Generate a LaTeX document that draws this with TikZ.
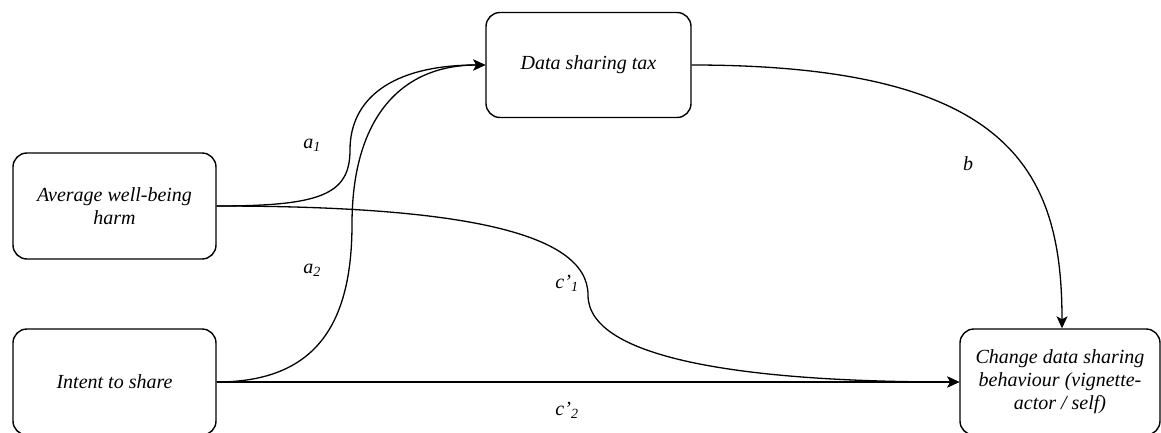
\documentclass[tikz,border=0pt]{standalone}
\usepackage{fontspec}
\setmainfont{Liberation Serif}
\usetikzlibrary{arrows.meta}
\tikzset{
  box/.style={draw=black, line width=1.4pt, rounded corners=14pt, fill=white,
    minimum width=203pt, minimum height=106pt, align=center,
    font=\fontsize{20}{23}\selectfont\itshape, inner sep=2pt},
  link/.style={line width=1.3pt, -{Stealth[length=12pt,width=11pt,inset=3pt]}},
  lbl/.style={font=\fontsize{20}{23}\selectfont\itshape, inner sep=0pt}
}
\begin{document}
\begin{tikzpicture}[x=1pt,y=-1pt]
  \clip (0,0) rectangle (1161,433);
  \fill[white] (0,0) rectangle (1161,433);

  % factors
  \node[box] (avg) at (114.5,206) {Average well-being\\harm};
  \node[box, minimum width=205pt, minimum height=105pt] (tax) at (588.5,65) {Data sharing tax};
  \node[box] (intent) at (114.5,382) {Intent to share};
  \node[box, minimum width=200pt] (change) at (1060,382) {Change data sharing\\behaviour (vignette-\\actor / self)};

  % paths a1, a2 into the mediator
  \draw[link] (avg.east) .. controls (320,206) and (350,195) .. (350,150)
     .. controls (350,100) and (390,65) .. (tax.west);
  \draw[link] (intent.east) .. controls (316,382) and (352,324) .. (352,224)
     .. controls (352,124) and (396,65) .. (tax.west);

  % direct paths c'1, c'2
  \draw[link] (avg.east) .. controls (450,206) and (588,230) .. (588,295)
     .. controls (588,360) and (750,382) .. (change.west);
  \draw[link] (intent.east) -- (change.west);

  % path b
  \draw[link] (tax.east) .. controls (1010,65) and (1062,170) .. ([xshift=2pt]change.north);

  % coefficient labels
  \node[lbl] (la1) at (312,145) {a\textsubscript{1}};
  \node[lbl] (la2) at (312,270) {a\textsubscript{2}};
  \node[lbl] (lb) at (968,164) {b};
  \node[lbl] (lc1) at (567,283) {c'\textsubscript{1}};
  \node[lbl] (lc2) at (567,410) {c'\textsubscript{2}};
\end{tikzpicture}
\end{document}
